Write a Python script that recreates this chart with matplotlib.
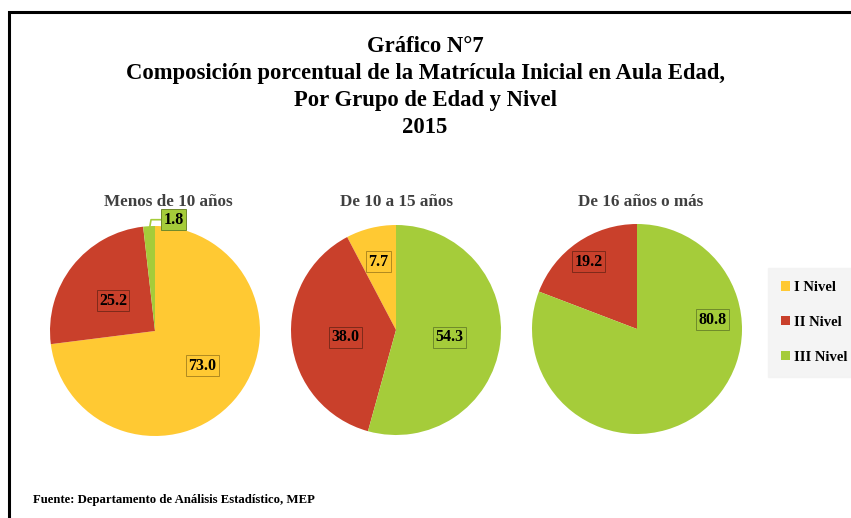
import matplotlib.pyplot as plt
from matplotlib.patches import Rectangle, Patch

# datos
niveles = ['I Nivel', 'II Nivel', 'III Nivel']
grupos = ['Menos de 10 años', 'De 10 a 15 años', 'De 16 años o más']
menos_10 = [73.0, 25.2, 1.8]
de_10_15 = [7.7, 38.0, 54.3]
de_16_mas = [0.0, 19.2, 80.8]
valores = [menos_10, de_10_15, de_16_mas]

colores = ['#FFC933', '#C9402B', '#A5CC3A']
bordes = ['#b08a20', '#7e2a1a', '#6f8a2a']

W, H = 851, 518
fig = plt.figure(figsize=(W / 100, H / 100), dpi=100)
plt.rcParams['font.family'] = ['Liberation Serif', 'DejaVu Serif']

# marco negro
fig.add_artist(Rectangle((9 / W, -0.05), 1.1, (H - 12) / H + 0.05, transform=fig.transFigure,
                         fill=False, edgecolor='black', linewidth=2.2))

# titulo
titulo = ['Gráfico N°7',
          'Composición porcentual de la Matrícula Inicial en Aula Edad,',
          'Por Grupo de Edad y Nivel',
          '2015']
for i, linea in enumerate(titulo):
    fig.text(425 / W, 1 - (46 + i * 27) / H, linea, ha='center', va='center',
             fontsize=16.3, fontweight='bold', color='black')

# pies
centros = [(155, 331), (396, 330), (637, 329)]
radio = 105
sentido = [False, True, True]
# posiciones de etiquetas (en unidades de radio)
pos_etiquetas = [
    [(0.45, -0.33), (-0.40, 0.29), None],
    [(-0.17, 0.65), (-0.48, -0.07), (0.51, -0.07)],
    [None, (-0.46, 0.64), (0.72, 0.09)],
]
titulos_x = [168, 397, 641]

for k in range(3):
    cx, cy = centros[k]
    ax = fig.add_axes([(cx - radio) / W, 1 - (cy + radio) / H, 2 * radio / W, 2 * radio / H])
    ax.pie(valores[k], colors=colores, startangle=90, counterclock=sentido[k], radius=1,
           wedgeprops=dict(linewidth=0))
    ax.set_xlim(-1, 1)
    ax.set_ylim(-1, 1)
    ax.set_aspect('auto')
    ax.axis('off')
    for j in range(3):
        p = pos_etiquetas[k][j]
        if p is None or valores[k][j] == 0:
            continue
        ax.text(p[0], p[1], f'{valores[k][j]:.1f}', ha='center', va='center',
                fontsize=11.5, fontweight='bold', color='black',
                bbox=dict(boxstyle='square,pad=0.15', facecolor=colores[j],
                          edgecolor=bordes[j], linewidth=0.7))
    fig.text(titulos_x[k] / W, 1 - 202 / H, grupos[k], ha='center', va='center',
             fontsize=12.3, fontweight='bold', color='#404040')

# etiqueta 1.8 fuera del pie
ax0 = fig.axes[0]
ax0.annotate(f'{menos_10[2]:.1f}', xy=(-0.05, 0.99), xytext=(0.18, 1.06),
             ha='center', va='center', fontsize=11.5, fontweight='bold', color='black',
             bbox=dict(boxstyle='square,pad=0.15', facecolor=colores[2],
                       edgecolor=bordes[2], linewidth=0.7),
             arrowprops=dict(arrowstyle='-', color=colores[2], linewidth=1.2,
                             connectionstyle='angle,angleA=0,angleB=80,rad=0',
                             shrinkA=0, shrinkB=0),
             annotation_clip=False)

# leyenda
leg = fig.legend(handles=[Patch(facecolor=c, edgecolor='none') for c in colores], labels=niveles,
                 loc='upper left', bbox_to_anchor=(768 / W, 1 - 268 / H), borderaxespad=0,
                 frameon=True, fancybox=False, handlelength=0.6, handleheight=0.6,
                 handletextpad=0.3, labelspacing=1.5, borderpad=0.9,
                 prop=dict(family='Liberation Serif', weight='bold', size=10.5))
leg.get_frame().set_facecolor('#F2F2F2')
leg.get_frame().set_edgecolor('#F2F2F2')

# fuente
fig.text(33 / W, 1 - 500 / H, 'Fuente: Departamento de Análisis Estadístico, MEP',
         ha='left', va='center', fontsize=9.2, fontweight='bold', color='black')

fig.savefig('out.png', dpi=100, facecolor='white')
